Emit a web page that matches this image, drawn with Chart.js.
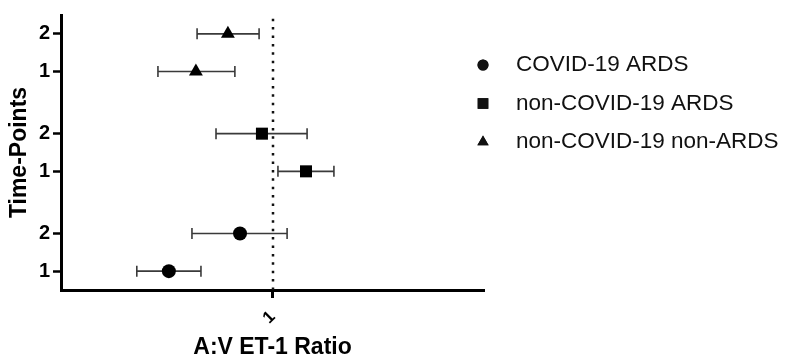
<!DOCTYPE html>
<html>
<head>
<meta charset="utf-8">
<script src="https://cdn.jsdelivr.net/npm/chart.js@4/dist/chart.umd.min.js"></script>
<style>
  html, body { margin: 0; padding: 0; background: #fff; }
  #wrap { width: 790px; height: 364px; position: relative; }
</style>
</head>
<body>
<div id="wrap"><canvas id="c" width="790" height="364"></canvas></div>
<script>
// ---- data ----
const groups = ['COVID-19 ARDS', 'non-COVID-19 ARDS', 'non-COVID-19 non-ARDS'];
const timePoints = ['1', '2'];
const pointStyles = ['circle', 'rect', 'triangle'];

// A:V ET-1 ratio estimate and CI, per time point (1, 2)
const covidArdsRatio    = [0.712, 0.899];
const covidArdsLow      = [0.641, 0.768];
const covidArdsHigh     = [0.791, 1.049];

const nonCovidArdsRatio = [1.116, 0.966];
const nonCovidArdsLow   = [1.018, 0.831];
const nonCovidArdsHigh  = [1.223, 1.120];

const nonArdsRatio      = [0.778, 0.864];
const nonArdsLow        = [0.687, 0.781];
const nonArdsHigh       = [0.884, 0.957];

const xTickValues = [1];
const referenceValue = 1;

// ---- build ----
const ratios = [covidArdsRatio, nonCovidArdsRatio, nonArdsRatio];
const lows   = [covidArdsLow, nonCovidArdsLow, nonArdsLow];
const highs  = [covidArdsHigh, nonCovidArdsHigh, nonArdsHigh];
const GROUP_STEP = 2.65;
const rowPos = (g, t) => g * GROUP_STEP + t;

const yTicks = [];
const yTickLabel = {};
groups.forEach((g, gi) => timePoints.forEach((tp, ti) => {
  const v = rowPos(gi, ti);
  yTicks.push(v);
  yTickLabel[v.toFixed(3)] = tp;
}));

const radii = [7, 8.5, 8];
const datasets = groups.map((g, gi) => ({
  label: g,
  data: timePoints.map((tp, ti) => ({
    x: ratios[gi][ti], y: rowPos(gi, ti),
    lo: lows[gi][ti], hi: highs[gi][ti]
  })),
  pointStyle: pointStyles[gi],
  pointRadius: radii[gi],
  pointHoverRadius: radii[gi],
  backgroundColor: '#000',
  borderColor: '#000',
  borderWidth: 0,
  showLine: false
}));

const FONT = '"Liberation Sans", Arial, Helvetica, sans-serif';

const errorBars = {
  id: 'errorBars',
  beforeDatasetsDraw(chart) {
    const ctx = chart.ctx, xs = chart.scales.x, ys = chart.scales.y;
    ctx.save();
    // dotted reference line
    const rx = Math.round(xs.getPixelForValue(referenceValue));
    ctx.strokeStyle = '#111';
    ctx.lineWidth = 2.5;
    ctx.setLineDash([2.5, 5.9]);
    ctx.beginPath();
    ctx.moveTo(rx, chart.chartArea.bottom);
    ctx.lineTo(rx, chart.chartArea.top);
    ctx.stroke();
    ctx.setLineDash([]);
    // error bars
    ctx.strokeStyle = '#3a3a3a';
    ctx.lineWidth = 1.6;
    chart.data.datasets.forEach(ds => ds.data.forEach(p => {
      const y = ys.getPixelForValue(p.y);
      const x1 = xs.getPixelForValue(p.lo), x2 = xs.getPixelForValue(p.hi);
      ctx.beginPath();
      ctx.moveTo(x1, y); ctx.lineTo(x2, y);
      ctx.moveTo(x1, y - 5.5); ctx.lineTo(x1, y + 5.5);
      ctx.moveTo(x2, y - 5.5); ctx.lineTo(x2, y + 5.5);
      ctx.stroke();
    }));
    ctx.restore();
  }
};

const sideLegend = {
  id: 'sideLegend',
  afterDraw(chart) {
    const ctx = chart.ctx;
    const legendRadii = [5.5, 7.5, 6.5];
    ctx.save();
    ctx.font = '22.5px ' + FONT;
    ctx.fillStyle = '#111';
    ctx.textBaseline = 'middle';
    chart.data.datasets.forEach((ds, i) => {
      const y = 65 + i * 38.5;
      Chart.helpers.drawPoint(ctx, {
        pointStyle: ds.pointStyle, radius: legendRadii[i], borderWidth: 0
      }, 483, y);
      ctx.fill();
      ctx.fillStyle = '#111';
      ctx.fillText(ds.label, 516, y);
    });
    ctx.restore();
  }
};

new Chart(document.getElementById('c'), {
  type: 'scatter',
  data: { datasets },
  options: {
    responsive: false,
    animation: false,
    devicePixelRatio: 1,
    layout: { padding: { left: 0, right: 306, top: 7, bottom: 0 } },
    plugins: { legend: { display: false }, tooltip: { enabled: false } },
    scales: {
      x: {
        type: 'logarithmic',
        min: 0.5, max: 2,
        afterBuildTicks: s => { s.ticks = xTickValues.map(v => ({ value: v })); },
        afterFit: s => { s.height = 74; },
        grid: { drawOnChartArea: false, drawTicks: true, tickLength: 8, tickWidth: 3, tickColor: '#000' },
        border: { display: true, color: '#000', width: 3 },
        ticks: {
          color: '#000', font: { family: FONT, size: 17, weight: 'bold' },
          minRotation: 45, maxRotation: 45, padding: 9,
          callback: v => String(v)
        },
        title: { display: true, text: 'A:V ET-1 Ratio', color: '#000',
                 font: { family: FONT, size: 23, weight: 'bold' }, padding: { top: 4, bottom: 3 } }
      },
      y: {
        type: 'linear',
        min: -0.5, max: 6.8,
        afterBuildTicks: s => { s.ticks = yTicks.map(v => ({ value: v })); },
        afterFit: s => { s.width = 61; },
        grid: { drawOnChartArea: false, drawTicks: true, tickLength: 8, tickWidth: 2.5, tickColor: '#000' },
        border: { display: true, color: '#000', width: 3 },
        ticks: {
          color: '#000', font: { family: FONT, size: 20, weight: 'bold' }, padding: 3,
          callback: v => yTickLabel[Number(v).toFixed(3)] || ''
        },
        title: { display: true, text: 'Time-Points', color: '#000',
                 font: { family: FONT, size: 23, weight: 'bold' }, padding: { top: 6, bottom: 4 } }
      }
    }
  },
  plugins: [errorBars, sideLegend]
});
</script>
</body>
</html>
